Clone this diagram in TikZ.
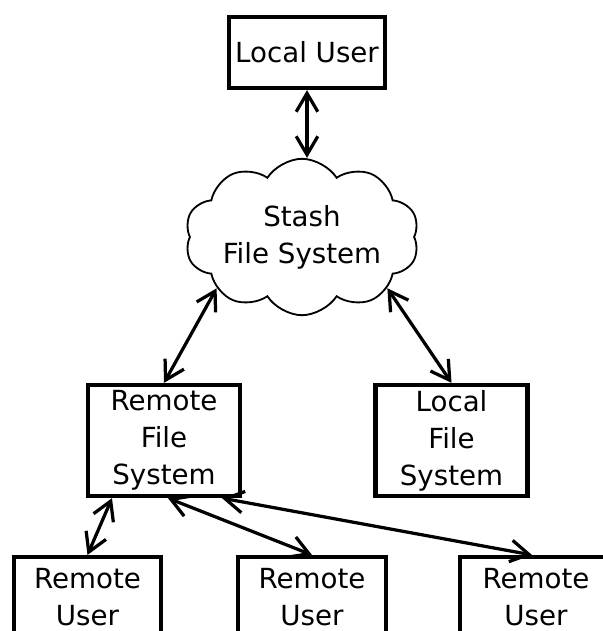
\documentclass[tikz,border=0pt]{standalone}
\usepackage{fontspec}
\setmainfont{DejaVu Sans}
\usetikzlibrary{shapes.symbols, arrows.meta}

\begin{document}
\begin{tikzpicture}[x=0.025cm, y=-0.025cm,
  font=\fontsize{19.7}{26.3}\selectfont,
  box/.style={draw, line width=2.9pt, inner sep=0pt, align=center},
  fsbox/.style={box, minimum width=3.8cm, minimum height=2.78cm},
  userbox/.style={box, minimum width=3.68cm, minimum height=2cm},
  link/.style={line width=2.3pt, {Straight Barb[length=4.6mm, width=5.4mm]}-{Straight Barb[length=4.6mm, width=5.4mm]}}]
\useasboundingbox (0,0) rectangle (603,631);
\node[box, minimum width=3.9cm, minimum height=1.78cm] (lu) at (307, 52.5) {Local User};
\node[draw, cloud, line width=1.3pt, cloud puffs=10, cloud puff arc=115, aspect=1.8,
      minimum width=5.3cm, minimum height=2.55cm, inner sep=0pt, align=center] (stash) at (302, 237) {Stash\\File System};
\node[fsbox] (rfs) at (164, 440.5) {Remote\\File\\System};
\node[fsbox] (lfs) at (451.5, 440.5) {Local\\File\\System};
\node[userbox] (ru1) at (87.5, 597) {Remote\\User};
\node[userbox] (ru2) at (312, 597) {Remote\\User};
\node[userbox, minimum width=3.8cm] (ru3) at (536, 597) {Remote\\User};
\draw[link] (lu.south) -- (lu.south |- stash.north);
\draw[link] (stash.211) -- (rfs.north);
\draw[link] (stash.329) -- (lfs.north);
\draw[link] ([xshift=-1.3cm]rfs.south) -- (ru1.north);
\draw[link] ([xshift=0.1cm]rfs.south) -- (ru2.north);
\draw[link] ([xshift=1.45cm]rfs.south) -- ([xshift=-0.1cm]ru3.north);
\end{tikzpicture}
\end{document}
